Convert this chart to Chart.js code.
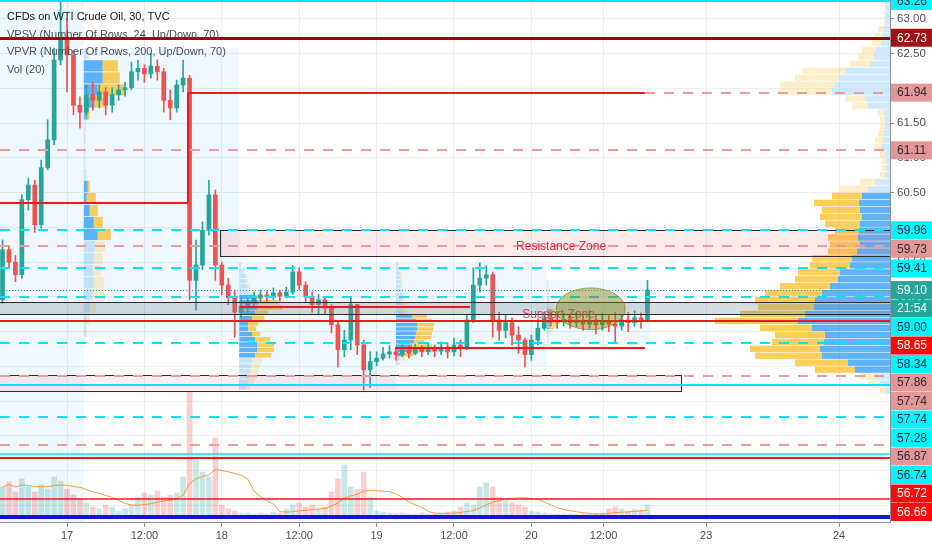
<!DOCTYPE html>
<html>
<head>
<meta charset="utf-8">
<title>CFDs on WTI Crude Oil, 30, TVC</title>
<script src="https://cdn.jsdelivr.net/npm/chart.js@4.4.1/dist/chart.umd.min.js"></script>
<style>
html,body{margin:0;padding:0;background:#ffffff;overflow:hidden}
#c{display:block}
</style>
</head>
<body>
<canvas id="c" width="932" height="550"></canvas>
<script>
// ================= DATA =================
// bar times: hours relative to Dec 17 00:00 (one candle per hour)
const barHours = [];
for (let h = -10; h <= 90; h++) barHours.push(h);

const open = [
58.96,59.68,59.50,59.32,60.40,60.61,60.04,60.86,61.26,62.41,
62.70,62.48,61.76,61.66,61.91,61.83,61.95,61.76,61.91,61.98,
62.01,62.24,62.29,62.21,62.32,62.24,61.83,61.72,62.05,62.15,
59.24,59.46,59.96,60.47,59.46,59.17,58.99,58.78,58.87,58.91,
58.99,59.03,59.00,59.06,59.01,59.07,59.36,59.17,59.01,58.89,
58.96,58.84,58.60,58.24,58.38,58.89,58.31,57.95,58.07,58.12,
58.18,58.21,58.17,58.24,58.19,58.25,58.21,58.27,58.22,58.28,
58.21,58.31,58.27,58.67,59.17,59.27,59.32,58.67,58.52,58.63,
58.45,58.38,58.17,58.38,58.55,58.70,58.67,58.64,58.68,58.63,
58.67,58.61,58.67,58.60,58.65,58.61,58.58,58.67,58.63,58.70,
58.65];
const high = [
59.82,59.74,59.60,60.47,60.71,60.68,60.97,61.55,62.58,63.27,
62.99,62.55,61.88,62.05,62.09,62.05,62.01,62.01,62.05,62.09,
62.38,62.41,62.34,62.51,62.41,62.29,61.98,62.12,62.41,62.19,
59.82,60.08,60.68,60.54,59.50,59.27,59.10,58.99,59.01,59.07,
59.10,59.09,59.13,59.10,59.14,59.45,59.42,59.22,59.07,59.04,
58.99,58.89,58.64,58.52,58.99,58.89,58.38,58.21,58.21,58.27,
58.30,58.28,58.31,58.30,58.32,58.30,58.34,58.31,58.35,58.34,
58.41,58.38,58.74,59.42,59.49,59.45,59.36,58.78,58.75,58.70,
58.57,58.41,58.45,58.67,58.78,58.81,58.75,58.77,58.74,58.78,
58.73,58.81,58.75,58.77,58.73,58.78,58.75,58.78,58.80,58.77,
59.24];
const low = [
58.91,59.42,59.22,59.27,60.25,59.93,59.99,60.83,61.19,62.34,
61.95,61.62,61.43,61.62,61.69,61.72,61.62,61.66,61.83,61.89,
61.98,62.12,62.09,62.15,62.12,61.66,61.55,61.66,61.95,58.96,
58.81,59.39,59.89,59.24,59.03,58.89,58.42,58.70,58.78,58.87,
58.93,58.93,58.96,58.94,58.99,59.04,59.10,58.93,58.78,58.75,
58.75,58.48,57.99,58.14,58.24,58.17,57.66,57.70,58.01,58.09,
58.12,58.09,58.14,58.12,58.17,58.14,58.17,58.14,58.17,58.12,
58.15,58.14,58.24,58.63,59.07,59.17,58.42,58.38,58.41,58.31,
58.19,57.99,58.09,58.31,58.52,58.58,58.55,58.58,58.55,58.57,
58.52,58.55,58.47,58.52,58.50,58.34,58.52,58.50,58.58,58.55,
58.64];
const close = [
59.68,59.50,59.32,60.40,60.61,60.04,60.86,61.26,62.41,62.70,
62.48,61.76,61.66,61.91,61.83,61.95,61.76,61.91,61.98,62.01,
62.24,62.29,62.21,62.32,62.24,61.83,61.72,62.05,62.15,59.24,
59.46,59.96,60.47,59.46,59.17,58.99,58.78,58.87,58.91,58.99,
59.03,59.00,59.06,59.01,59.07,59.36,59.17,59.01,58.89,58.96,
58.84,58.60,58.24,58.38,58.89,58.31,57.95,58.07,58.12,58.18,
58.21,58.17,58.24,58.19,58.25,58.21,58.27,58.22,58.28,58.21,
58.31,58.27,58.67,59.17,59.27,59.32,58.67,58.52,58.63,58.45,
58.38,58.17,58.38,58.55,58.70,58.67,58.64,58.68,58.63,58.67,
58.61,58.67,58.60,58.65,58.61,58.58,58.67,58.63,58.70,58.65,
59.10];
const volume = [
30,35,25,38,30,25,32,28,40,36,
28,22,18,14,10,8,12,10,6,8,
12,20,24,22,26,20,22,24,40,125,
57,45,40,79,12,8,6,4,4,3,
4,3,5,4,8,12,14,10,12,8,
10,25,38,52,30,28,45,20,6,5,
4,3,4,3,3,4,3,3,4,5,
6,10,14,12,30,34,30,20,16,14,
12,10,6,5,4,3,3,3,3,3,
3,3,3,4,8,10,8,6,8,7,
12];

// time axis labels
const tickHours  = [0, 12, 24, 36, 48, 60, 72, 83.2, 99.1, 119.7];
const tickLabels = ['17','12:00','18','12:00','19','12:00','20','12:00','23','24'];
const timeMin = -10.39, timeMax = 127.6;
const priceMin = 55.762, priceMax = 63.273;

// horizontal drawn levels
const levelPrice = [63.26,62.73,61.94,61.94,61.11,60.35,59.96,59.73,59.41,59.10,59.00,58.86,58.65,58.34,58.27,57.86,57.74,57.28,56.87,56.74,56.68,56.09,55.83];
const levelFrom  = [null,null,18.76,89.6,null,null,null,null,null,null,null,26.8,null,null,50.9,null,null,null,null,null,null,null,null];
const levelTo    = [null,null,89.6,null,null,18.76,null,null,null,null,null,62.5,null,null,89.6,null,null,null,null,null,null,null,null];
const levelKind  = ['cyan','darkred','red','pinkDash','pinkDash','red','cyanDash','pinkDash','cyanDash','last','cyanDash','red','red','cyanDash','red','pinkDash','cyan','cyanDash','pinkDash','cyanThin','red','redThin','blue'];
// vertical connector (time, from price, to price)
const connector = [18.76, 60.35, 61.94];

// price-axis labels
const axisLabelPrice = [63.26,62.73,61.94,61.11,59.96,59.73,59.41,59.10,59.10,59.00,58.65,58.34,57.86,57.74,57.74,57.28,56.87,56.74,56.72,56.66];
const axisLabelText  = ['63.26','62.73','61.94','61.11','59.96','59.73','59.41','59.10','21:54','59.00','58.65','58.34','57.86','57.74','57.74','57.28','56.87','56.74','56.72','56.66'];
const axisLabelKind  = ['cyan','darkred','pink','pink','cyan','pink','cyan','last','last','cyan','red','cyan','pink','pink','cyan','cyan','pink','cyan','red','red'];

// zones (rectangles)
const zoneFrom = [23.7, null, null];
const zoneTo   = [null, null, 95.2];
const zoneHigh = [59.96, 58.93, 57.87];
const zoneLow  = [59.59, 58.75, 57.65];
const zoneKind = ['resist','support','lower'];
const zoneTexts = ['Resistance Zone', 'Support Zone'];
const zoneTextHour = [76.6, 76.2];
const zoneTextPrice = [59.73, 58.75];

// ellipse: centre time, centre price, time radius, price radius
const ellipse = [81.2, 58.83, 5.35, 0.30];

// session volume profiles (VPSV)
const sessStart = [-10.39, 2.6, 26.7, 51.0, 74.4];
const sessEnd   = [2.6, 26.7, 51.0, 74.4, 90.5];
const sessHigh  = [63.30, 62.58, 59.49, 59.49, 59.24];
const sessLow   = [55.70, 58.42, 57.66, 58.01, 58.34];
const sessUp = [
 [],
 [3,19,19,14,11,4,1,1,1,1,2,4,3,6,10,14,11,10,9,10,9,6,3,2],
 [2,5,6,6,8,10,16,19,18,16,13,9,9,13,16,18,18,16,13,12,11,10,9,7],
 [2,3,4,4,5,5,6,6,6,7,7,8,16,20,21,21,20,19,18,16,16,6,4,2],
 [1,1,1,1,2,2,2,2,2,3,3,3,4,4,5,5,5,4,3,3,2,2,1,1]
];
const sessDown = [
 [],
 [2,15,17,28,10,2,1,1,0,0,1,2,9,8,9,13,10,9,8,10,12,6,3,1],
 [0,1,2,3,3,5,7,20,25,13,12,10,8,8,15,17,17,16,10,9,8,8,6,4],
 [1,1,1,2,2,2,2,3,3,3,3,4,15,16,17,16,16,16,10,20,22,12,5,2],
 [0,0,1,1,1,1,2,2,2,3,3,4,6,7,8,8,8,6,4,3,2,1,1,0]
];
const sessValue = [
 [],
 [0,1,1,1,1,1,0,0,0,0,0,1,1,1,1,1,0,0,0,0,0,0,0,0],
 [0,0,0,0,0,0,1,1,1,1,1,1,1,1,1,1,1,1,0,0,0,0,0,0],
 [0,0,0,0,0,0,0,0,0,0,0,0,1,1,1,1,1,1,1,1,1,1,0,0],
 [0,0,0,0,0,0,0,0,0,0,0,1,1,1,1,1,1,1,1,0,0,0,0,0]
];

// visible-range volume profile (VPVR), rows of 0.10 from 63.30 down
const vpvrTop = 63.30, vpvrStep = 0.10;
const vpvrUp = [4,4,4,4,6,8,9,14,16,20,45,50,55,58,25,22,6,5,5,6,7,8,5,4,4,5,15,22,28,31,30,28,30,31,32,30,33,38,40,50,52,60,68,75,76,85,92,78,65,66,70,68,42,35,15,10,5];
const vpvrDown = [1,1,2,2,6,7,9,14,16,20,43,45,55,54,20,16,6,5,5,6,8,8,5,4,4,5,15,28,30,45,38,42,35,24,30,30,29,40,40,42,43,50,57,60,56,65,83,52,50,52,70,67,53,40,15,12,5];
const vpvrValueHigh = 60.50, vpvrValueLow = 57.90;

const legendLines = ['CFDs on WTI Crude Oil, 30, TVC','VPSV (Number Of Rows, 24, Up/Down, 70)','VPVR (Number Of Rows, 200, Up/Down, 70)','Vol (20)'];

// ================= STYLES =================
const FONT = "'Liberation Sans', Arial, sans-serif";
const C_UP = '#26a69a', C_DN = '#ef5350';
const LINE_STYLE = {
  cyan:{color:'#00e5ff', width:2},
  cyanThin:{color:'#00e5ff', width:1.5},
  cyanDash:{color:'#00e5ff', width:2, dash:[10,9]},
  pinkDash:{color:'#eb9d9d', width:2, dash:[10,9]},
  darkred:{color:'#a00000', width:3},
  red:{color:'#f01818', width:2},
  redThin:{color:'#f01818', width:1.5},
  last:{color:'#26a69a', width:1, dash:[1,2]},
  blue:{color:'#1616d0', width:4}
};
const LABEL_STYLE = {
  cyan:{bg:'#00f6ff', fg:'#1b2035'},
  pink:{bg:'#e39696', fg:'#2a2e39'},
  darkred:{bg:'#a31212', fg:'#ffffff'},
  red:{bg:'#ff0a0a', fg:'#ffffff'},
  last:{bg:'#26a69a', fg:'#ffffff'}
};
const ZONE_STYLE = {
  resist:{fill:'rgba(242,80,90,0.13)', stroke:'#2b2b2b'},
  support:{fill:'rgba(120,144,156,0.30)', stroke:'#2b2b2b'},
  lower:{fill:'rgba(242,80,90,0.10)', stroke:'#2b2b2b'}
};
const ST = {
  session:'rgba(33,150,243,0.07)',
  up:'rgba(33,150,243,0.72)', upF:'rgba(33,150,243,0.22)',
  dn:'rgba(251,192,45,0.78)', dnF:'rgba(251,192,45,0.25)',
  profScale:1, vpvrScale:1
};
const LABEL_H = 18.5;

// ================= DERIVED =================
const isUp = close.map((c, i) => c >= open[i]);
const MA_LEN = 10; // 20 half-hour bars
const volMA = volume.map((v, i) => {
  const s = volume.slice(Math.max(0, i - MA_LEN + 1), i + 1);
  return s.reduce((a, b) => a + b, 0) / s.length;
});

function crisp(y, w){ return (Math.round(w) % 2) ? Math.round(y) + 0.5 : Math.round(y); }

const drawings = {
  id:'drawings',
  beforeDatasetsDraw(chart){
    const {ctx, chartArea:a, scales:{x:xS, y:yS}} = chart;
    ctx.save();
    ctx.beginPath(); ctx.rect(a.left, a.top, a.width, a.height); ctx.clip();
    // session boxes
    for (let i = 0; i < sessStart.length; i++){
      const x0 = xS.getPixelForValue(sessStart[i]), x1 = xS.getPixelForValue(sessEnd[i]);
      const y0 = yS.getPixelForValue(sessHigh[i]), y1 = yS.getPixelForValue(sessLow[i]);
      ctx.fillStyle = ST.session; ctx.fillRect(x0, y0, x1 - x0, y1 - y0);
    }
    // session profiles
    sessUp.forEach((up, i) => {
      if (!up.length) return;
      const step = (sessHigh[i] - sessLow[i]) / up.length;
      const x0 = xS.getPixelForValue(sessStart[i]);
      up.forEach((u, r) => {
        const yt = yS.getPixelForValue(sessHigh[i] - r * step);
        const yb = yS.getPixelForValue(sessHigh[i] - (r + 1) * step);
        const hh = Math.max(1, yb - yt - 0.8);
        const va = sessValue[i][r];
        ctx.fillStyle = va ? ST.up : ST.upF; ctx.fillRect(x0, yt, u * ST.profScale, hh);
        ctx.fillStyle = va ? ST.dn : ST.dnF; ctx.fillRect(x0 + u * ST.profScale, yt, sessDown[i][r] * ST.profScale, hh);
      });
    });
    // VPVR anchored on the right
    const xr = a.right;
    vpvrUp.forEach((u, r) => {
      const pt = vpvrTop - r * vpvrStep, pb = pt - vpvrStep, pc = pt - vpvrStep / 2;
      const yt = yS.getPixelForValue(pt), yb = yS.getPixelForValue(pb);
      const hh = Math.max(1, yb - yt - 0.6);
      const va = pc <= vpvrValueHigh && pc >= vpvrValueLow;
      const wu = u * ST.vpvrScale, wd = vpvrDown[r] * ST.vpvrScale;
      ctx.fillStyle = va ? ST.up : ST.upF; ctx.fillRect(xr - wu, yt, wu, hh);
      ctx.fillStyle = va ? ST.dn : ST.dnF; ctx.fillRect(xr - wu - wd, yt, wd, hh);
    });
    ctx.restore();
  },
  afterDatasetsDraw(chart){
    const {ctx, chartArea:a, scales:{x:xS, y:yS}} = chart;
    ctx.save();
    ctx.beginPath(); ctx.rect(a.left, a.top, a.width, a.height); ctx.clip();
    // zones
    zoneHigh.forEach((hp, i) => {
      const st = ZONE_STYLE[zoneKind[i]];
      const x0 = zoneFrom[i] == null ? a.left - 2 : xS.getPixelForValue(zoneFrom[i]);
      const x1 = zoneTo[i] == null ? a.right + 2 : xS.getPixelForValue(zoneTo[i]);
      const y0 = crisp(yS.getPixelForValue(hp), 1), y1 = crisp(yS.getPixelForValue(zoneLow[i]), 1);
      ctx.fillStyle = st.fill; ctx.fillRect(x0, y0, x1 - x0, y1 - y0);
      ctx.strokeStyle = st.stroke; ctx.lineWidth = 1; ctx.setLineDash([]);
      ctx.strokeRect(Math.round(x0) + 0.5, y0, Math.round(x1 - x0), y1 - y0);
    });
    // horizontal levels
    levelPrice.forEach((p, i) => {
      const st = LINE_STYLE[levelKind[i]];
      const x0 = levelFrom[i] == null ? a.left : xS.getPixelForValue(levelFrom[i]);
      const x1 = levelTo[i] == null ? a.right : xS.getPixelForValue(levelTo[i]);
      const yy = crisp(yS.getPixelForValue(p), st.width);
      ctx.strokeStyle = st.color; ctx.lineWidth = st.width; ctx.setLineDash(st.dash || []);
      ctx.beginPath(); ctx.moveTo(x0, yy); ctx.lineTo(x1, yy); ctx.stroke();
    });
    // vertical connector
    {
      const st = LINE_STYLE.red;
      const xx = Math.round(xS.getPixelForValue(connector[0]));
      ctx.strokeStyle = st.color; ctx.lineWidth = st.width; ctx.setLineDash([]);
      ctx.beginPath(); ctx.moveTo(xx, yS.getPixelForValue(connector[1])); ctx.lineTo(xx, yS.getPixelForValue(connector[2])); ctx.stroke();
    }
    // zone texts
    ctx.font = '12px ' + FONT; ctx.textAlign = 'center'; ctx.textBaseline = 'middle';
    zoneTexts.forEach((t, i) => {
      ctx.fillStyle = i === 0 ? '#ee2a3a' : 'rgba(215,50,70,0.85)';
      ctx.fillText(t, xS.getPixelForValue(zoneTextHour[i]), yS.getPixelForValue(zoneTextPrice[i]));
    });
    // ellipse
    {
      const cx = xS.getPixelForValue(ellipse[0]), cy = yS.getPixelForValue(ellipse[1]);
      const rx = Math.abs(xS.getPixelForValue(ellipse[0] + ellipse[2]) - cx);
      const ry = Math.abs(yS.getPixelForValue(ellipse[1] + ellipse[3]) - cy);
      ctx.beginPath(); ctx.ellipse(cx, cy, rx, ry, 0, 0, Math.PI * 2);
      ctx.fillStyle = 'rgba(128,128,0,0.42)'; ctx.fill();
      ctx.strokeStyle = 'rgba(110,110,0,0.55)'; ctx.lineWidth = 1; ctx.stroke();
    }
    ctx.restore();
  },
  afterDraw(chart){
    const {ctx, chartArea:a, scales:{y:yS}} = chart;
    ctx.save();
    // stacked price-axis labels
    const items = axisLabelPrice.map((p, i) => ({y: yS.getPixelForValue(p), t: axisLabelText[i], k: axisLabelKind[i]}));
    items.sort((m, n) => m.y - n.y);
    let prev = -Infinity;
    items.forEach(it => { if (it.y < prev + LABEL_H) it.y = prev + LABEL_H; prev = it.y; });
    ctx.font = '12px ' + FONT; ctx.textAlign = 'left'; ctx.textBaseline = 'middle';
    items.forEach(it => {
      const st = LABEL_STYLE[it.k];
      ctx.fillStyle = st.bg; ctx.fillRect(a.right + 1, it.y - 9, chart.width - a.right - 1, 18);
      ctx.fillStyle = st.fg; ctx.fillText(it.t, a.right + 7, it.y + 0.5);
    });
    // legend
    ctx.font = '11px ' + FONT;
    legendLines.forEach((t, i) => {
      ctx.fillStyle = i === 0 ? '#131722' : '#4a4e59';
      ctx.fillText(t, 7, 17 + i * 17.7);
    });
    ctx.restore();
  }
};

Chart.defaults.font.family = FONT;

new Chart(document.getElementById('c'), {
  type:'bar',
  data:{
    datasets:[
      {type:'line', label:'Vol MA', data: barHours.map((h, i) => ({x:h, y:volMA[i]})), yAxisID:'yv',
       borderColor:'rgba(245,140,40,0.85)', borderWidth:1, pointRadius:0, tension:0, order:4},
      {label:'Volume', data: barHours.map((h, i) => ({x:h, y:volume[i]})), yAxisID:'yv',
       backgroundColor: isUp.map(u => u ? 'rgba(38,166,154,0.26)' : 'rgba(239,83,80,0.28)'),
       barThickness:5, grouped:false, order:5},
      {label:'Wick', data: barHours.map((h, i) => ({x:h, y:[low[i], high[i]]})), yAxisID:'y',
       backgroundColor: isUp.map(u => u ? C_UP : C_DN), barThickness:1, grouped:false, order:2},
      {label:'Body', data: barHours.map((h, i) => ({x:h, y:[open[i], close[i]]})), yAxisID:'y',
       backgroundColor: isUp.map(u => u ? C_UP : C_DN), barThickness:4, minBarLength:1, grouped:false, order:1}
    ]
  },
  options:{
    responsive:false, animation:false, events:[],
    layout:{padding:0},
    plugins:{legend:{display:false}, tooltip:{enabled:false}},
    scales:{
      x:{type:'linear', position:'bottom', min:timeMin, max:timeMax, offset:false,
        afterBuildTicks: s => { s.ticks = tickHours.map(v => ({value:v})); },
        afterFit: s => { s.height = 28; s.paddingLeft = 0; s.paddingRight = 0; },
        ticks:{autoSkip:false, maxRotation:0, callback:(v, i) => tickLabels[i], color:'#4c505b', font:{size:11}, padding:2},
        grid:{offset:false, color:'#eceef3', tickColor:'#8f929b', tickLength:5},
        border:{color:'#8f929b'}},
      y:{position:'right', min:priceMin, max:priceMax,
        afterBuildTicks: s => { s.ticks = s.ticks.filter(t => Math.abs(t.value * 2 - Math.round(t.value * 2)) < 1e-6); },
        afterFit: s => { s.width = 42; s.paddingTop = 0; s.paddingBottom = 0; },
        ticks:{stepSize:0.5, callback: v => Number(v).toFixed(2), color:'#4c505b', font:{size:11.5}, padding:3},
        grid:{offset:false, color:'#eceef3', tickColor:'#8f929b', tickLength:4},
        border:{color:'#8f929b'}},
      yv:{display:false, min:-5, max:517}
    }
  },
  plugins:[drawings]
});
</script>
</body>
</html>
